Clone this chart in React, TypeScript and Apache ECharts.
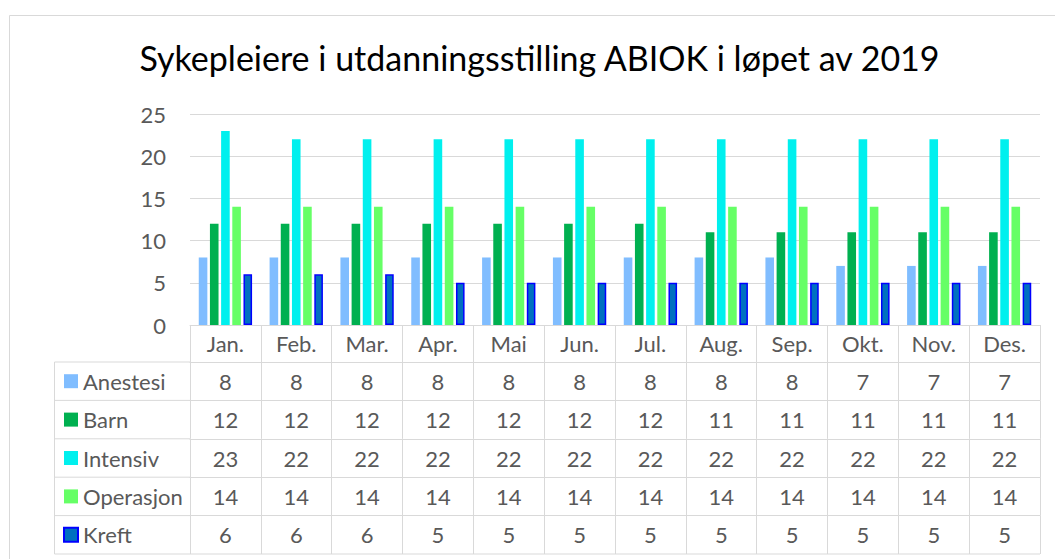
import React, { useEffect, useRef } from "react";
import * as echarts from "echarts";

const months = ["Jan.", "Feb.", "Mar.", "Apr.", "Mai", "Jun.", "Jul.", "Aug.", "Sep.", "Okt.", "Nov.", "Des."];
const seriesNames = ["Anestesi", "Barn", "Intensiv", "Operasjon", "Kreft"];
const anestesi = [8, 8, 8, 8, 8, 8, 8, 8, 8, 7, 7, 7];
const barn = [12, 12, 12, 12, 12, 12, 12, 11, 11, 11, 11, 11];
const intensiv = [23, 22, 22, 22, 22, 22, 22, 22, 22, 22, 22, 22];
const operasjon = [14, 14, 14, 14, 14, 14, 14, 14, 14, 14, 14, 14];
const kreft = [6, 6, 6, 5, 5, 5, 5, 5, 5, 5, 5, 5];
const yTicks = { min: 0, max: 25, interval: 5 };
const title = "Sykepleiere i utdanningsstilling ABIOK i løpet av 2019";

const seriesData = [anestesi, barn, intensiv, operasjon, kreft];
const colors = ["#80BDFF", "#00B050", "#00F0EE", "#66FF66", "#0070C0"];

const FONT = "Lato, 'Noto Sans', sans-serif";
const TXT = "#595959";
const LINE = "#D9D9D9";

export default function App() {
  const ref = useRef<HTMLDivElement>(null);
  useEffect(() => {
    if (!ref.current) return;
    const chart = echarts.init(ref.current, undefined, { renderer: "svg" });

    const gridLeft = 190;
    const gridRight = 1040;
    const gridTop = 114;
    const gridBottomY = 325;
    const headerH = 37;
    const rowH = 38.4;
    const offsets = [0, headerH];
    for (let i = 1; i < 5; i++) offsets.push(headerH + rowH * i);
    const tableBottom = gridBottomY + headerH + rowH * 5;

    const xAxes: any[] = [];
    const rowAxisData = [months, ...seriesData.map((a) => a.map(String))];
    rowAxisData.forEach((d, i) => {
      const h = i === 0 ? headerH : rowH;
      xAxes.push({
        type: "category",
        gridIndex: 0,
        position: "bottom",
        offset: offsets[i],
        data: d,
        axisLine: { show: true, lineStyle: { color: LINE, width: 1 } },
        axisTick: { show: true, interval: 0, length: h, lineStyle: { color: LINE, width: 1 } },
        axisLabel: {
          interval: 0,
          margin: h / 2,
          verticalAlign: "middle",
          fontSize: 22,
          fontFamily: FONT,
          color: TXT,
        },
        splitLine: { show: false },
      });
    });

    const graphics: any[] = [
      {
        type: "rect",
        z: -10,
        shape: { x: 9.5, y: 15.5, width: 1200, height: 700 },
        style: { fill: "#fff", stroke: LINE, lineWidth: 1 },
      },
      {
        type: "line",
        shape: { x1: 54.5, y1: gridBottomY + headerH, x2: 54.5, y2: tableBottom },
        style: { stroke: LINE, lineWidth: 1 },
      },
      {
        type: "line",
        shape: { x1: 54.5, y1: tableBottom, x2: gridRight, y2: tableBottom },
        style: { stroke: LINE, lineWidth: 1 },
      },
    ];
    for (let i = 1; i <= 5; i++) {
      const y = gridBottomY + offsets[i];
      graphics.push({
        type: "line",
        shape: { x1: 54.5, y1: y, x2: gridLeft, y2: y },
        style: { stroke: LINE, lineWidth: 1 },
      });
    }

    chart.setOption({
      animation: false,
      backgroundColor: "#fff",
      title: {
        text: title,
        left: 539.5,
        top: 40,
        padding: 0,
        textAlign: "center",
        textStyle: { fontFamily: FONT, fontSize: 34, fontWeight: "normal", color: "#000" },
      },
      legend: {
        orient: "vertical",
        left: 63,
        top: gridBottomY + headerH + rowH / 2 - 11,
        padding: 0,
        itemWidth: 14,
        itemHeight: 14,
        itemGap: rowH - 22,
        icon: "rect",
        selectedMode: false,
        data: seriesNames,
        textStyle: { fontFamily: FONT, fontSize: 22, color: TXT, lineHeight: 22 },
      },
      grid: {
        left: gridLeft,
        top: gridTop,
        width: gridRight - gridLeft,
        height: gridBottomY - gridTop,
        containLabel: false,
      },
      xAxis: xAxes,
      yAxis: {
        type: "value",
        min: yTicks.min,
        max: yTicks.max,
        interval: yTicks.interval,
        axisLine: { show: false },
        axisTick: { show: false },
        axisLabel: { fontSize: 22, fontFamily: FONT, color: TXT, margin: 24 },
        splitLine: { lineStyle: { color: LINE, width: 1 } },
      },
      graphic: graphics,
      series: seriesNames.map((name, i) => ({
        name,
        type: "bar",
        xAxisIndex: 0,
        data: seriesData[i],
        barWidth: 8.6,
        barGap: "30%",
        itemStyle:
          i === 4
            ? { color: colors[i], borderColor: "#0000FF", borderWidth: 1.5 }
            : { color: colors[i] },
      })),
    });
    return () => chart.dispose();
  }, []);
  return (
    <div
      ref={ref}
      style={{ position: "fixed", left: 0, top: 0, width: 1055, height: 559, background: "#fff" }}
    />
  );
}
